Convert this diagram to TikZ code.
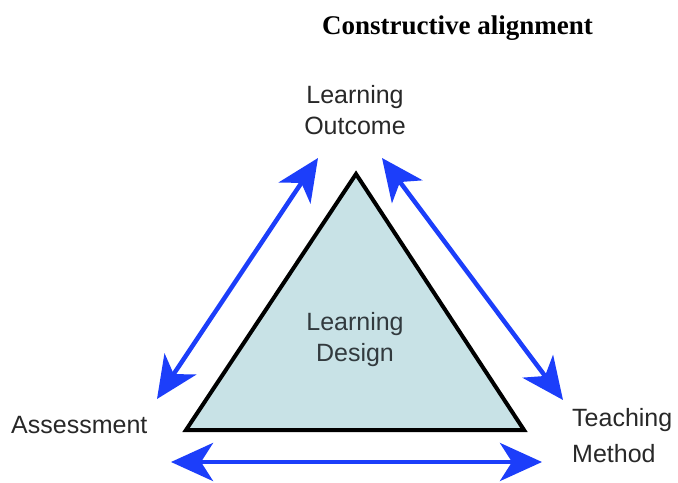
\documentclass[tikz,border=0pt]{standalone}
\usepackage{fontspec}
\setmainfont{Liberation Serif}
\newfontfamily\labelfont{Liberation Sans}
\usetikzlibrary{arrows.meta}
\definecolor{arrowblue}{RGB}{28,62,250}
\definecolor{trifill}{RGB}{200,226,230}
\definecolor{labelgray}{RGB}{40,40,40}
\definecolor{designgray}{RGB}{50,58,62}
\tikzset{
  biarrow/.style={draw=arrowblue, line width=4.5bp,
    {Stealth[length=42bp,width=38bp,inset=12bp]}-{Stealth[length=42bp,width=38bp,inset=12bp]}},
  lbl/.style={inner sep=0pt, text=labelgray, font=\labelfont\fontsize{25bp}{31.5bp}\selectfont},
  titletext/.style={inner sep=0pt, font=\bfseries\fontsize{27bp}{32bp}\selectfont},
  tri/.style={draw=black, line width=4bp, fill=trifill, line join=miter}
}
\begin{document}
\begin{tikzpicture}[x=1bp,y=-1bp]
\useasboundingbox (0,0) rectangle (678,483);
% triangle
\coordinate (apex) at (356,174);
\coordinate (bl) at (186,430);
\coordinate (br) at (524,430);
\draw[tri] (apex) -- (br) -- (bl) -- cycle;
% arrow end points
\coordinate (la1) at (157,399);
\coordinate (la2) at (318,158);
\coordinate (ra1) at (382,158);
\coordinate (ra2) at (563,400);
\coordinate (ba1) at (171,462);
\coordinate (ba2) at (542,462);
\draw[biarrow] (la1) -- (la2);
\draw[biarrow] (ra1) -- (ra2);
\draw[biarrow] (ba1) -- (ba2);
% texts
\node[titletext, anchor=base] (title) at (457.5,35) {Constructive alignment};
\node[lbl, align=center, anchor=north] (outcome) at (355,85) {Learning\\Outcome};
\node[lbl, align=center, anchor=north, text=designgray] (design) at (355,312) {Learning\\Design};
\node[lbl, anchor=base west] (assess) at (11,433) {Assessment};
\node[lbl, align=left, anchor=north west, font=\labelfont\fontsize{25bp}{36bp}\selectfont] (teach) at (572,408) {Teaching\\Method};
\end{tikzpicture}
\end{document}
